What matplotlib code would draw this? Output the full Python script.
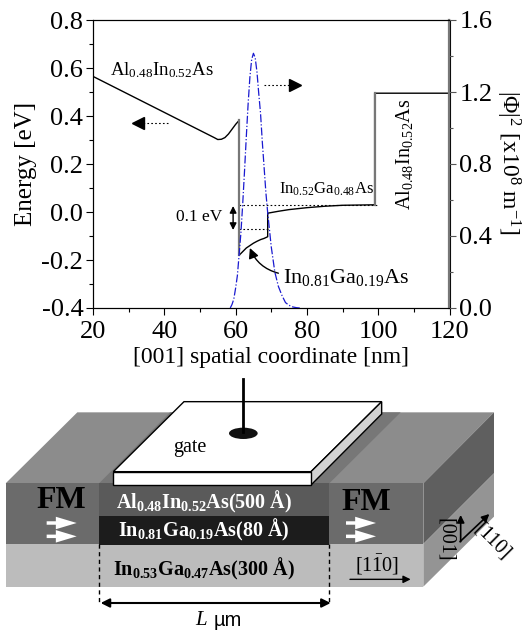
import matplotlib
matplotlib.use("Agg")
import matplotlib.pyplot as plt
from matplotlib.patches import Polygon, Rectangle, Ellipse

plt.rcParams['font.family'] = ['Liberation Serif', 'DejaVu Serif']
plt.rcParams['mathtext.fontset'] = 'custom'
plt.rcParams['mathtext.rm'] = 'Liberation Serif'
plt.rcParams['mathtext.it'] = 'Liberation Serif:italic'
plt.rcParams['mathtext.bf'] = 'Liberation Serif:bold'
plt.rcParams['mathtext.default'] = 'rm'

# conduction band profile
band_x = [20, 54, 55, 56, 57, 58, 59, 60, 61, 61, 62, 63, 64, 65, 66, 67, 68, 69,
          69, 72, 75, 80, 85, 90, 99, 99, 120]
band_e = [0.565, 0.31, 0.302, 0.303, 0.31, 0.325, 0.345, 0.365, 0.382, -0.18, -0.165,
          -0.15, -0.14, -0.13, -0.122, -0.115, -0.11, -0.103, -0.005, 0.003, 0.01,
          0.018, 0.024, 0.028, 0.03, 0.495, 0.495]

# wave function, right axis
psi_x = [58.5, 59, 59.5, 60, 60.5, 61, 61.5, 62, 62.5, 63, 63.5, 64, 64.5, 65, 65.5,
         66, 66.5, 67, 67.5, 68, 68.5, 69, 70, 71, 72, 73, 74, 75, 76, 77, 78]
psi_y = [0.0, 0.02, 0.05, 0.11, 0.18, 0.30, 0.42, 0.58, 0.76, 0.95, 1.13, 1.28, 1.38,
         1.415, 1.39, 1.31, 1.19, 1.08, 0.92, 0.78, 0.64, 0.53, 0.34, 0.20, 0.12,
         0.07, 0.03, 0.015, 0.006, 0.002, 0.0]

x_ticks = [20, 40, 60, 80, 100, 120]
left_ticks = [-0.4, -0.2, 0.0, 0.2, 0.4, 0.6, 0.8]
right_ticks = [0.0, 0.4, 0.8, 1.2, 1.6]

fig = plt.figure(figsize=(5.23, 6.30), dpi=100)

# ---- top panel: band diagram
ax = fig.add_axes([93 / 523, 1 - 308 / 630, 356.5 / 523, 288 / 630])
ax.plot(band_x, band_e, color='k', lw=1.0, zorder=3)
ax.plot([61, 61], [-0.18, 0.382], color='#777777', lw=1.6, zorder=4)
ax.plot([99, 99], [0.03, 0.495], color='#777777', lw=1.6, zorder=4)
ax.set_xlim(20, 120)
ax.set_ylim(-0.4, 0.8)
ax.set_xticks(x_ticks)
ax.set_xticks(range(30, 120, 20), minor=True)
ax.set_yticks(left_ticks)
ax.set_yticklabels(['-0.4', '-0.2', '0.0', '0.2', '0.4', '0.6', '0.8'])
ax.set_yticks([-0.3, -0.1, 0.1, 0.3, 0.5, 0.7], minor=True)
ax.tick_params(which='major', length=5, width=0.8, labelsize=19, pad=2)
ax.tick_params(which='minor', length=3, width=0.8)
ax.tick_params(axis='x', which='major', pad=4)
ax.set_xlabel('[001] spatial coordinate [nm]', fontsize=17, labelpad=3)
ax.set_ylabel('Energy [eV]', fontsize=18, labelpad=3)

ax2 = ax.twinx()
ax2.plot(psi_x, psi_y, color='#1a1ad0', lw=0.9, ls='-.', zorder=5)
ax2.set_ylim(0, 1.6)
ax2.set_yticks(right_ticks)
ax2.set_yticks([0.2, 0.6, 1.0, 1.4], minor=True)
ax2.tick_params(which='major', length=5, width=0.8, labelsize=19, pad=2, color='#555555')
ax2.tick_params(which='minor', length=3, width=0.8, color='#555555')
ax2.spines['right'].set_color('#777777')
ax2.spines['right'].set_linewidth(1.6)
ax2.text(1.165, 0.505, '|Φ|$^2$ [x10$^8$ m$^{-1}$]', transform=ax2.transAxes, fontsize=17,
         rotation=270, ha='center', va='center')

# dotted level markers and direction arrows
ax.plot([61, 100], [0.03, 0.03], color='k', lw=0.8, ls=(0, (1.5, 2)))
ax.plot([61, 69], [-0.07, -0.07], color='k', lw=0.8, ls=(0, (1.5, 2)))
ax.plot([41, 33.5], [0.37, 0.37], color='k', lw=0.8, ls=(0, (1.5, 2)))
ax.plot([68, 75.5], [0.528, 0.528], color='k', lw=0.8, ls=(0, (1.5, 2)))
ax.plot([32.6], [0.37], marker='<', ms=8.5, color='k', ls='none')
ax.plot([76.7], [0.528], marker='>', ms=8.5, color='k', ls='none')
ax.annotate('', xy=(59.3, 0.025), xytext=(59.3, -0.075),
            arrowprops=dict(arrowstyle='<|-|>', color='k', lw=1.0, mutation_scale=10,
                            shrinkA=0, shrinkB=0))
ax.annotate('', xy=(64, -0.15), xytext=(72, -0.255),
            arrowprops=dict(arrowstyle='-|>', color='k', lw=1.0, mutation_scale=15,
                            shrinkA=0, shrinkB=0, connectionstyle='arc3,rad=-0.25'))

ax.text(24.8, 0.57, 'Al$_{0.48}$In$_{0.52}$As', fontsize=13.5, ha='left', va='baseline')
ax.text(72.3, 0.075, 'In$_{0.52}$Ga$_{0.48}$As', fontsize=12, ha='left', va='baseline', zorder=6)
ax.text(107.5, 0.01, 'Al$_{0.48}$In$_{0.52}$As', fontsize=14.5, rotation=90,
        ha='left', va='center', rotation_mode='anchor')
ax.text(73.4, -0.295, 'In$_{0.81}$Ga$_{0.19}$As', fontsize=16, ha='left', va='baseline', zorder=6)
ax.text(43.2, -0.02, '0.1 eV', fontsize=12.5, ha='left', va='center')

# ---- bottom panel: device sketch, in 3x pixel units of the panel
sk = fig.add_axes([0, 0, 1, 290 / 630])
sk.set_xlim(0, 1569)
sk.set_ylim(870, 0)
sk.axis('off')

sk.add_patch(Polygon([(17, 430), (232, 217), (1482, 217), (1270, 430)], fc='#8c8c8c', ec='none'))
sk.add_patch(Polygon([(297, 430), (510, 217), (1202, 217), (988, 430)], fc='#777777', ec='none'))
sk.add_patch(Polygon([(1270, 430), (1482, 217), (1482, 400), (1270, 612)], fc='#5f5f5f', ec='none'))
sk.add_patch(Polygon([(1270, 612), (1482, 400), (1482, 530), (1270, 740)], fc='#949494', ec='none'))
sk.add_patch(Rectangle((17, 430), 1253, 182, fc='#6b6b6b', ec='none'))
sk.add_patch(Rectangle((17, 612), 1253, 128, fc='#bcbcbc', ec='none'))
sk.add_patch(Rectangle((297, 430), 691, 98, fc='#5a5a5a', ec='none'))
sk.add_patch(Rectangle((297, 528), 691, 86, fc='#1c1c1c', ec='none'))

# gate
sk.add_patch(Polygon([(340, 395), (552, 185), (1145, 185), (933, 395)], fc='white', ec='k', lw=1.0))
sk.add_patch(Polygon([(933, 395), (1145, 185), (1145, 222), (933, 435)], fc='#d2d2d2', ec='k', lw=1.0))
sk.add_patch(Rectangle((340, 395), 593, 40, fc='white', ec='k', lw=1.0))
sk.plot([728, 728], [118, 275], color='k', lw=2.0)
sk.add_patch(Ellipse((730, 280), 86, 34, fc='#111111', ec='none'))
sk.text(570, 322, 'gate', fontsize=14.5, ha='center', va='center')

sk.text(184, 483, 'FM', fontsize=23, fontweight='bold', ha='center', va='center')
sk.text(1098, 489, 'FM', fontsize=23, fontweight='bold', ha='center', va='center')
for x0 in (140, 1038):
    for yy in (549, 589):
        sk.annotate('', xy=(x0 + 90, yy), xytext=(x0, yy),
                    arrowprops=dict(arrowstyle='simple,head_width=0.9,head_length=1.5,tail_width=0.25',
                                    fc='white', ec='none', mutation_scale=10, shrinkA=0, shrinkB=0))

sk.text(612, 487, r'$\mathbf{Al_{0.48}In_{0.52}As(500\ \AA)}$', fontsize=14.5, color='white',
        ha='center', va='center')
sk.text(612, 570, r'$\mathbf{In_{0.81}Ga_{0.19}As(80\ \AA)}$', fontsize=14.5, color='white',
        ha='center', va='center')
sk.text(612, 688, r'$\mathbf{In_{0.53}Ga_{0.47}As(300\ \AA)}$', fontsize=14.5, color='k',
        ha='center', va='center')

# channel length marker
sk.plot([298, 298], [612, 790], color='k', lw=1.0, ls=(0, (3, 2.5)))
sk.plot([988, 988], [612, 790], color='k', lw=1.0, ls=(0, (3, 2.5)))
sk.annotate('', xy=(302, 789), xytext=(992, 789),
            arrowprops=dict(arrowstyle='<|-|>', color='k', lw=1.5, mutation_scale=13,
                            shrinkA=0, shrinkB=0))
sk.text(604, 842, 'L', fontsize=15, fontstyle='italic', ha='center', va='center')
sk.text(682, 842, 'µm', fontsize=14.5, family='Liberation Sans', ha='center', va='center')

# crystal directions
sk.text(1130, 676, r'[1$\bar{1}$0]', fontsize=14.5, ha='center', va='center')
sk.annotate('', xy=(1232, 718), xytext=(1050, 718),
            arrowprops=dict(arrowstyle='-|>', color='k', lw=1.0, mutation_scale=11,
                            shrinkA=0, shrinkB=0))
sk.text(1336, 600, '[001]', fontsize=14.5, rotation=270, ha='center', va='center')
sk.text(1476, 604, '[110]', fontsize=14.5, rotation=-45, ha='center', va='center')
sk.annotate('', xy=(1382, 525), xytext=(1382, 605),
            arrowprops=dict(arrowstyle='-|>', color='k', lw=1.2, mutation_scale=11,
                            shrinkA=0, shrinkB=0))
sk.annotate('', xy=(1468, 522), xytext=(1380, 605),
            arrowprops=dict(arrowstyle='-|>', color='k', lw=1.2, mutation_scale=11,
                            shrinkA=0, shrinkB=0))

fig.savefig('out.png', dpi=100)
